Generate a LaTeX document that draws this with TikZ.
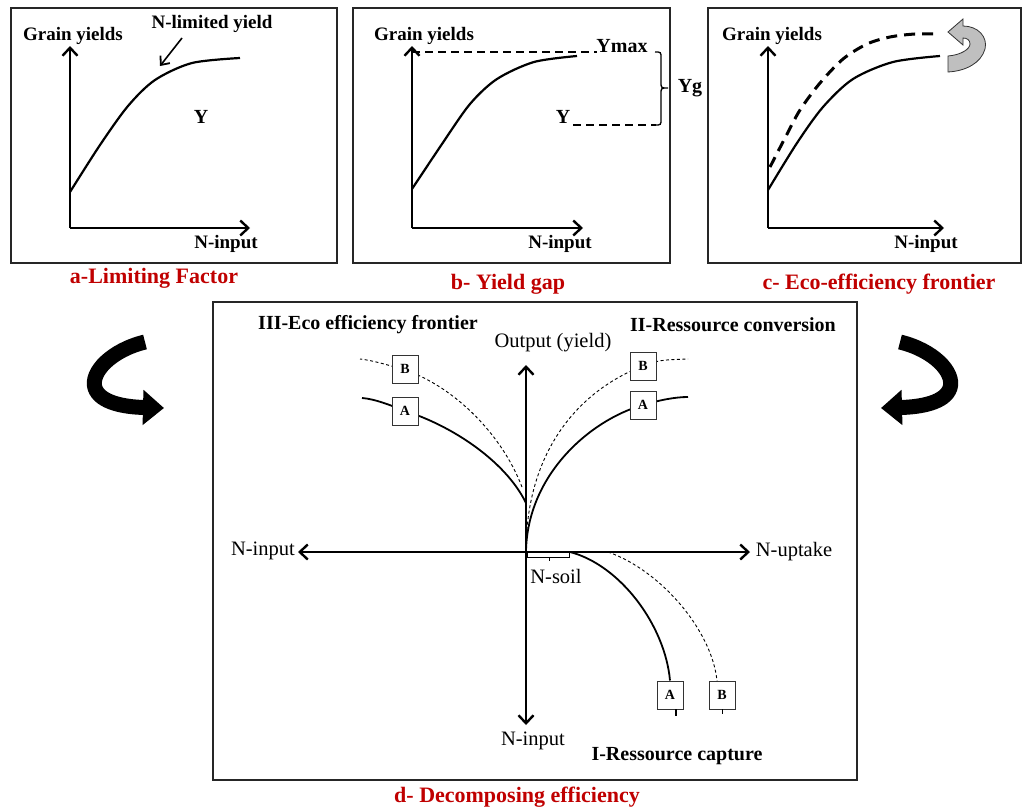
\documentclass[tikz,border=0pt]{standalone}
\usepackage{fontspec}
\setmainfont{Liberation Serif}
\usetikzlibrary{arrows.meta}
\definecolor{titlered}{RGB}{192,0,0}
\begin{document}
\begin{tikzpicture}[x=1pt,y=-1pt,
  panel/.style={draw=black!85, line width=1.3pt},
  lab/.style={font=\fontsize{19}{22}\selectfont\bfseries, inner sep=0pt},
  rlab/.style={font=\fontsize{20.5}{24}\selectfont, inner sep=0pt},
  blab/.style={font=\fontsize{20}{24}\selectfont\bfseries, inner sep=0pt},
  ttl/.style={font=\fontsize{22}{26}\selectfont\bfseries, text=titlered, inner sep=0pt},
  axisA/.style={line width=2.4pt, -{Straight Barb[length=8pt,width=15pt,line width=2.4pt]}},
  axisD/.style={line width=2pt, -{Straight Barb[length=8pt,width=15pt,line width=2.4pt]}},
  curveS/.style={line width=2.2pt},
  gapdash/.style={line width=2pt, dash pattern=on 8pt off 5pt},
  frontdash/.style={line width=3pt, dash pattern=on 11pt off 7pt},
  curveA/.style={line width=1.8pt},
  curveB/.style={line width=0.9pt, dash pattern=on 3pt off 2.5pt},
  tag/.style={draw=black!80, line width=1pt, fill=white, minimum width=26pt, minimum height=28pt, inner sep=0pt, font=\fontsize{14}{16}\selectfont\bfseries},
  bigarrow/.style={line width=15pt, -{Triangle[length=21pt,width=34pt]}}
]
\useasboundingbox (0,0) rectangle (1025,811);
\fill[white] (0,0) rectangle (1025,811);

% ---------- panel a ----------
\draw[panel] (11,8) rectangle (337,263);
\coordinate (Oa) at (70,228); \coordinate (Ya) at (70,46); \coordinate (Xa) at (250,228);
\draw[axisA] (Oa) -- (Ya);
\draw[axisA] (Oa) -- (Xa);
\draw[curveS, shift={(70,0)}] plot[smooth] coordinates {(0,192) (30,145) (58,106) (85,80) (122,63) (170,58)};
\node[lab] (ga) at (73,36) {Grain yields};
\node[lab] (nly) at (212,24) {N-limited yield};
\coordinate (nlyS) at (182,38); \coordinate (nlyE) at (160,66);
\draw[line width=1.6pt, -{Straight Barb[length=7pt,width=12pt,line width=1.8pt]}] (nlyS) -- (nlyE);
\node[blab] (ya) at (201,117) {Y};
\node[lab] (xa) at (226,244) {N-input};
\node[ttl] (ta) at (154,278) {a-Limiting Factor};

% ---------- panel b ----------
\draw[panel] (353,8) rectangle (670,263);
\coordinate (Ob) at (412,228); \coordinate (Yb) at (412,46); \coordinate (Xb) at (583,228);
\draw[axisA] (Ob) -- (Yb);
\draw[axisA] (Ob) -- (Xb);
\draw[curveS, shift={(412,0)}] plot[smooth] coordinates {(0,189) (30,144) (58,104) (85,79) (122,62) (165,56)};
\node[lab] (gb) at (424,36) {Grain yields};
\node[blab] (ymax) at (622,46) {Ymax};
\node[blab] (yb) at (563,117) {Y};
\coordinate (ymaxL) at (412,52); \coordinate (ymaxR) at (597,52);
\coordinate (yL) at (573,125); \coordinate (yR) at (656,125);
\draw[gapdash] (ymaxL) -- (ymaxR);
\draw[gapdash] (yL) -- (yR);
\draw[line width=1.3pt] (655,52) .. controls (661,52) .. (661,58) -- (661,82) .. controls (661,88) .. (668,88) .. controls (661,88) .. (661,94) -- (661,119) .. controls (661,125) .. (655,125);
\node[blab] (yg) at (690,88) {Yg};
\node[lab] (xb) at (560,244) {N-input};
\node[ttl] (tb) at (508,284) {b- Yield gap};

% ---------- panel c ----------
\draw[panel] (708,8) rectangle (1021,263);
\coordinate (Oc) at (768,228); \coordinate (Yc) at (768,46); \coordinate (Xc) at (944,228);
\draw[axisA] (Oc) -- (Yc);
\draw[axisA] (Oc) -- (Xc);
\draw[curveS, shift={(768,0)}] plot[smooth] coordinates {(0,190) (29,143) (55,107) (85,79) (125,62) (172,56)};
\draw[frontdash] plot[smooth] coordinates {(770,167) (785,138) (800,110) (820,83) (843,59) (867,44) (890,37) (915,34) (940,34)};
\draw[draw=black!80, line width=0.8pt, fill=gray!50]
  (948,32) -- (963,19) -- (963,26) .. controls (978,26) and (988,37) .. (985,49)
  .. controls (981,63) and (966,71) .. (948,72) -- (948,56)
  .. controls (961,55) and (970,49) .. (970,44) .. controls (970,40) and (967,38) .. (963,38)
  -- (963,45) -- cycle;
\node[lab] (gc) at (772,36) {Grain yields};
\node[lab] (xc) at (926,244) {N-input};
\node[ttl] (tc) at (879,284) {c- Eco-efficiency frontier};

% ---------- big curved arrows ----------
\coordinate (LCa) at (145,342); \coordinate (LCb) at (164,408);
\draw[bigarrow] (LCa) .. controls (112,350) and (90,372) .. (95,388) .. controls (100,403) and (125,407) .. (LCb);
\coordinate (RCa) at (900,342); \coordinate (RCb) at (881,408);
\draw[bigarrow] (RCa) .. controls (933,350) and (955,372) .. (950,388) .. controls (945,403) and (920,407) .. (RCb);

% ---------- panel d ----------
\draw[panel] (213,302) rectangle (857,780);
\coordinate (O) at (526,552);
\coordinate (Up) at (526,365); \coordinate (Lf) at (298,552);
\coordinate (Rt) at (750,552); \coordinate (Dn) at (526,725);
\draw[axisD] (O) -- (Up);
\draw[axisD] (O) -- (Lf);
\draw[axisD] (O) -- (Rt);
\draw[axisD] (O) -- (Dn);

% quadrant II
\draw[curveB] (O) .. controls (526,450) and (580,390) .. (643,366) .. controls (660,360) .. (688,359);
\draw[curveA] (O) .. controls (527,475) and (590,420) .. (643,405) .. controls (660,400) and (675,397) .. (688,397);
\node[tag] (IIB) at (643,366) {B};
\node[tag] (IIA) at (643,405) {A};

% quadrant III
\coordinate (IIIa0) at (526,503); \coordinate (IIIb0) at (522,487);
\draw[curveB] (IIIb0) .. controls (500,430) and (450,385) .. (405,370) .. controls (385,364) and (370,360) .. (360,359);
\draw[curveA] (IIIa0) .. controls (505,460) and (450,425) .. (405,411) .. controls (390,405) and (375,399) .. (362,398);
\node[tag] (IIIB) at (405,369) {B};
\node[tag] (IIIA) at (405,411) {A};

% quadrant IV
\coordinate (IVa0) at (570,552); \coordinate (IVb0) at (608,552);
\node[tag] (IVA) at (670,695) {A};
\node[tag] (IVB) at (722,695) {B};
\draw[curveA] (IVa0) .. controls (620,565) and (665,625) .. (IVA.north);
\draw[curveB] (IVb0) .. controls (660,570) and (712,630) .. (717,681);
\draw[line width=1.6pt] (676,709) -- (676,716);
\draw[line width=0.9pt] (722,709) -- (722,714);

% N-soil bracket
\draw[line width=0.9pt] (527,552) -- (527,557) -- (569,557) -- (569,552);
\draw[line width=0.9pt] (549,557) -- (549,561);

\node[rlab] (out) at (553,343) {Output (yield)};
\node[rlab] (nin) at (263,551) {N-input};
\node[rlab] (nup) at (794,552) {N-uptake};
\node[rlab] (nsoil) at (556,576) {N-soil};
\node[rlab] (nin2) at (533,741) {N-input};
\node[blab] (q3) at (368,325) {III-Eco efficiency frontier};
\node[blab] (q2) at (733,325) {II-Ressource conversion};
\node[blab] (q1) at (677,756) {I-Ressource capture};
\node[ttl] (td) at (517,797) {d- Decomposing efficiency};
\end{tikzpicture}
\end{document}
